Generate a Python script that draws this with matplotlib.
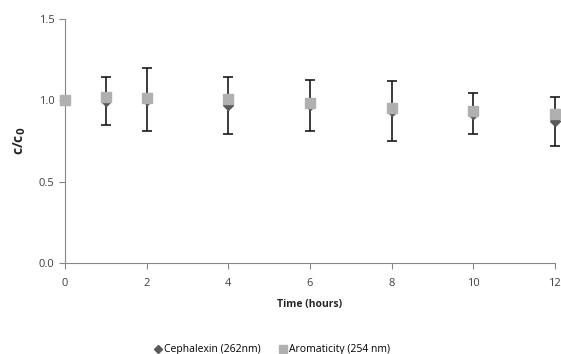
import matplotlib
matplotlib.use("Agg")
import matplotlib.pyplot as plt
from matplotlib.lines import Line2D

time_h = [0, 1, 2, 4, 6, 8, 10, 12]
cephalexin = [1.0, 0.995, 1.005, 0.970, 0.969, 0.934, 0.918, 0.872]
ceph_err = [0.0, 0.147, 0.192, 0.177, 0.156, 0.185, 0.125, 0.150]
aromaticity = [1.0, 1.022, 1.016, 1.006, 0.985, 0.955, 0.936, 0.914]
xticks = [0, 2, 4, 6, 8, 10, 12]
yticks = [0.0, 0.5, 1.0, 1.5]

plt.rcParams['font.family'] = ['Open Sans', 'DejaVu Sans']

fig = plt.figure(figsize=(5.61, 3.54), dpi=100)
ax = fig.add_axes([0.116, 0.257, 0.873, 0.689])

eb = ax.errorbar(time_h, cephalexin, yerr=ceph_err, fmt='D', color='#5a5a5a',
                 ecolor='#1a1a1a', elinewidth=1.2, capsize=3.5, capthick=1.2,
                 markersize=5, zorder=3)
for art in [eb[0], *eb[1], *eb[2]]:
    art.set_clip_on(False)
ax.plot(time_h, aromaticity, 's', color='#b0b0b0', markersize=7,
        zorder=4, clip_on=False)

ax.set_xlim(0, 12)
ax.set_ylim(0, 1.5)
ax.set_xticks(xticks)
ax.set_yticks(yticks)
ax.set_yticklabels([f'{v:.1f}' for v in yticks])
for s in ['top', 'right']:
    ax.spines[s].set_visible(False)
for s in ['left', 'bottom']:
    ax.spines[s].set_color('#868686')
ax.tick_params(axis='both', colors='#868686', labelcolor='#404040',
               labelsize=8, length=4)
ax.tick_params(axis='x', pad=7)
ax.set_xlabel('Time (hours)', fontsize=7.5, fontweight='bold', color='#262626', labelpad=7)
ax.set_ylabel(r'c/c$_\mathbf{0}$', fontsize=10, fontweight='bold', color='#262626', labelpad=8)

handles = [Line2D([], [], marker='D', linestyle='none', color='#5a5a5a', markersize=4),
           Line2D([], [], marker='s', linestyle='none', color='#b0b0b0', markersize=6)]
labels = ['Cephalexin (262nm)', 'Aromaticity (254 nm)']
fig.legend(handles, labels, loc='lower center', bbox_to_anchor=(0.486, -0.03), ncol=2,
           frameon=False, fontsize=7.5, handlelength=0.6, handletextpad=0.3,
           columnspacing=1.8)

fig.savefig('out.png', dpi=100)
